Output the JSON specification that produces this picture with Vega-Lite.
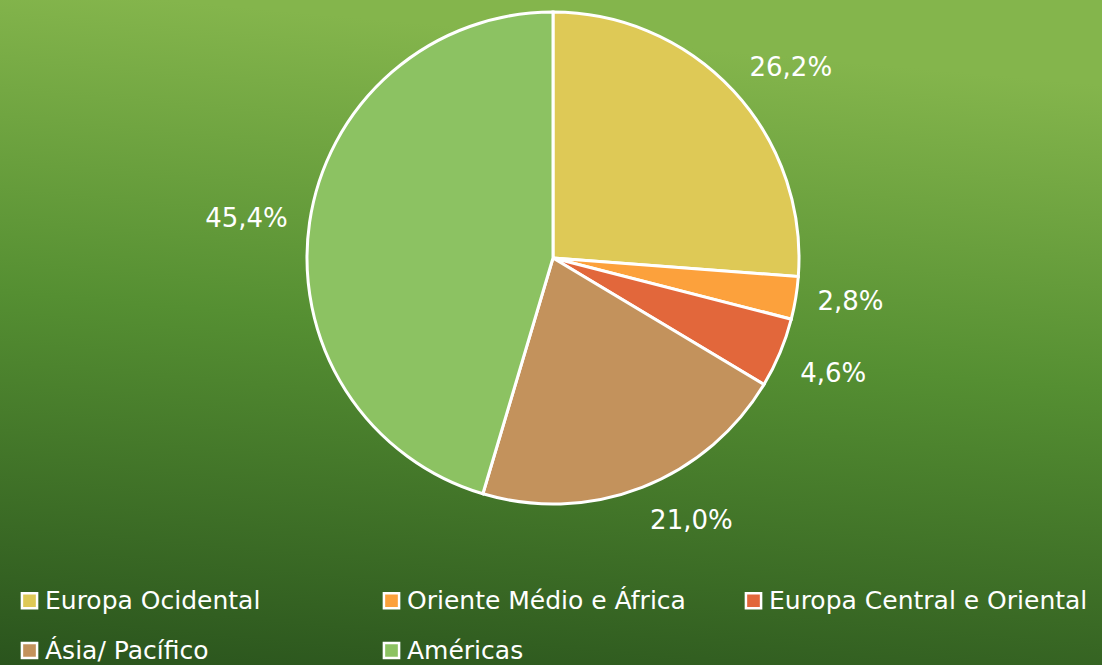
{
  "$schema": "https://vega.github.io/schema/vega-lite/v6.json",
  "width": 1102,
  "height": 665,
  "autosize": {"type": "fit", "contains": "padding"},
  "padding": 0,
  "background": "#4f8a30",
  "config": {"view": {"stroke": null}, "font": "DejaVu Sans"},
  "data": {"values": [
    {"region": "Europa Ocidental", "value": 26.2, "label": "26,2%", "order": 1},
    {"region": "Oriente Médio e África", "value": 2.8, "label": "2,8%", "order": 2},
    {"region": "Europa Central e Oriental", "value": 4.6, "label": "4,6%", "order": 3},
    {"region": "Ásia/ Pacífico", "value": 21.0, "label": "21,0%", "order": 4},
    {"region": "Américas", "value": 45.4, "label": "45,4%", "order": 5}
  ]},
  "layer": [
    {
      "data": {"values": [{"bg": 1}]},
      "mark": {"type": "rect", "color": {"gradient": "linear", "x1": 0.15, "y1": 0, "x2": 0, "y2": 1,
        "stops": [
          {"offset": 0, "color": "#84b54c"},
          {"offset": 0.45, "color": "#558f32"},
          {"offset": 1, "color": "#2a541d"}
        ]}},
      "encoding": {}
    },
    {
      "mark": {"type": "arc", "outerRadius": 246, "stroke": "white", "strokeWidth": 3},
      "encoding": {
        "x": {"value": 553},
        "y": {"value": 258},
        "theta": {"field": "value", "type": "quantitative", "stack": true},
        "order": {"field": "order", "type": "quantitative"},
        "color": {
          "field": "region", "type": "nominal",
          "scale": {
            "domain": ["Europa Ocidental", "Oriente Médio e África", "Europa Central e Oriental", "Ásia/ Pacífico", "Américas"],
            "range": ["#dec956", "#fca13c", "#e2673b", "#c3925c", "#8cc262"]
          },
          "legend": {
            "orient": "none", "legendX": 17, "legendY": 588, "direction": "horizontal", "columns": 3,
            "title": null, "gridAlign": "all", "columnPadding": 14, "rowPadding": 23,
            "symbolType": "square", "symbolSize": 230, "symbolStrokeColor": "white", "symbolStrokeWidth": 2.5,
            "symbolOpacity": 1, "labelColor": "white", "labelFontSize": 25, "labelFont": "DejaVu Sans",
            "labelOffset": 3, "labelLimit": 400
          }
        }
      }
    },
    {
      "mark": {
        "type": "text", "radius": 268, "fontSize": 26, "color": "white", "font": "DejaVu Sans",
        "align": {"expr": "((datum.value_start + datum.value_end) * 1.8) > 190 && ((datum.value_start + datum.value_end) * 1.8) < 350 ? 'right' : (((datum.value_start + datum.value_end) * 1.8) > 10 && ((datum.value_start + datum.value_end) * 1.8) < 170 ? 'left' : 'center')"},
        "baseline": {"expr": "((datum.value_start + datum.value_end) * 1.8) < 80 || ((datum.value_start + datum.value_end) * 1.8) > 280 ? 'alphabetic' : (((datum.value_start + datum.value_end) * 1.8) > 100 && ((datum.value_start + datum.value_end) * 1.8) < 260 ? 'top' : 'middle')"}
      },
      "encoding": {
        "x": {"value": 553},
        "y": {"value": 258},
        "theta": {"field": "value", "type": "quantitative", "stack": true},
        "order": {"field": "order", "type": "quantitative"},
        "text": {"field": "label", "type": "nominal"}
      }
    }
  ]
}
